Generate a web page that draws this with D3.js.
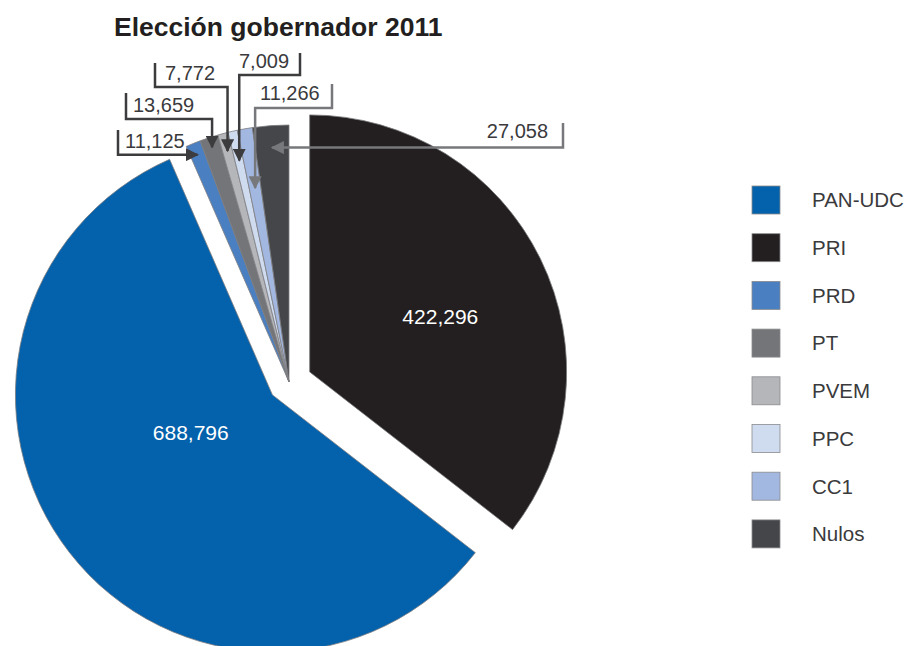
<!DOCTYPE html>
<html>
<head>
<meta charset="utf-8">
<script src="https://cdn.jsdelivr.net/npm/d3@7"></script>
<style>
  html, body { margin: 0; padding: 0; background: #fff; }
  svg { display: block; }
</style>
</head>
<body>
<svg id="chart" width="905" height="646"></svg>
<script>
// ---- Data ----
const title = "Elección gobernador 2011";
const parties = ["PAN-UDC", "PRI", "PRD", "PT", "PVEM", "PPC", "CC1", "Nulos"];
const votes   = [688796, 422296, 11125, 13659, 7772, 7009, 11266, 27058];
const colors  = ["#0461ab", "#231f20", "#4a7fc1", "#747578", "#b5b6b9", "#cfdbef", "#a3b8e0", "#444649"];
// clockwise drawing order starting at 12 o'clock
const drawOrder = ["PRI", "PAN-UDC", "PRD", "PT", "PVEM", "PPC", "CC1", "Nulos"];

// ---- Layout ----
const W = 905, H = 646;
const cx = 289, cy = 382, R = 257;
const explode = { "PRI": 23, "PAN-UDC": 21 };
const insideLabels = { "PRI": { r: 142, da: 3 }, "PAN-UDC": { r: 90, da: 13 } };
// callouts for small slices: tip radius, text position, bracket route
const callouts = {
  "PRD":   { tipR: 245, tx: 125, ty: 148, anchor: "start", stemX: 118, stemTop: 130, elbow: null, col: "dark" },
  "PT":    { tipR: 247, tx: 133, ty: 112, anchor: "start", stemX: 126, stemTop: 93,  elbow: 119,  col: "dark" },
  "PVEM":  { tipR: 239, tx: 165, ty: 80,  anchor: "start", stemX: 155, stemTop: 63,  elbow: 87,   col: "dark" },
  "PPC":   { tipR: 227, tx: 239, ty: 68,  anchor: "start", stemX: 300, stemTop: 53,  elbow: 75,   col: "dark" },
  "CC1":   { tipR: 197, tx: 260, ty: 100, anchor: "start", stemX: 332, stemTop: 84,  elbow: 108,  col: "grey" },
  "Nulos": { tipR: 235, tx: 548, ty: 138, anchor: "end",   stemX: 563, stemTop: 123, elbow: null, col: "grey" }
};
const lineColors = { dark: "#3c3c3e", grey: "#77787b" };
const font = "'Liberation Sans', Arial, Helvetica, sans-serif";
const fmt = d3.format(",");

const svg = d3.select("#chart");

// markers
const defs = svg.append("defs");
Object.entries(lineColors).forEach(([k, c]) => {
  defs.append("marker")
    .attr("id", "arrow-" + k)
    .attr("viewBox", "0 0 10 10")
    .attr("refX", 9).attr("refY", 5)
    .attr("markerUnits", "userSpaceOnUse")
    .attr("markerWidth", 13).attr("markerHeight", 13)
    .attr("orient", "auto")
    .append("path").attr("d", "M0,0 L10,5 L0,10 Z").attr("fill", c);
});

// title
svg.append("text")
  .attr("x", 114).attr("y", 36)
  .attr("font-family", font).attr("font-weight", "bold")
  .attr("font-size", 26.5).attr("fill", "#231f20")
  .text(title);

const data = parties.map((p, i) => ({ party: p, value: votes[i], color: colors[i] }));
const pie = d3.pie().value(d => d.value)
  .sort((a, b) => drawOrder.indexOf(a.party) - drawOrder.indexOf(b.party));
const arcs = pie(data);
const arc = d3.arc().innerRadius(0).outerRadius(R);

function offsetOf(a) {
  const d = explode[a.data.party] || 0;
  const m = (a.startAngle + a.endAngle) / 2;
  return [d * Math.sin(m), -d * Math.cos(m)];
}
function polar(r, ang) { return [r * Math.sin(ang), -r * Math.cos(ang)]; }

const g = svg.append("g").attr("transform", `translate(${cx},${cy})`);

g.selectAll("path.slice").data(arcs).join("path")
  .attr("class", "slice")
  .attr("transform", a => `translate(${offsetOf(a)})`)
  .attr("d", arc)
  .attr("fill", a => a.data.color)
  .attr("stroke", "#7d7e81")
  .attr("stroke-width", 0.8)
  .attr("stroke-linejoin", "round");

// inside labels
g.selectAll("text.inside").data(arcs.filter(a => insideLabels[a.data.party])).join("text")
  .attr("class", "inside")
  .attr("transform", a => {
    const o = offsetOf(a), cfg = insideLabels[a.data.party];
    const m = (a.startAngle + a.endAngle) / 2 + cfg.da * Math.PI / 180;
    const p = polar(cfg.r, m);
    return `translate(${o[0] + p[0]},${o[1] + p[1]})`;
  })
  .attr("text-anchor", "middle").attr("dy", "0.36em")
  .attr("font-family", font).attr("font-size", 21).attr("fill", "#ffffff")
  .text(a => fmt(a.data.value));

// callouts
const small = arcs.filter(a => callouts[a.data.party]);
small.forEach(a => {
  const c = callouts[a.data.party];
  const m = (a.startAngle + a.endAngle) / 2;
  const t = polar(c.tipR, m);
  const tipX = cx + t[0], tipY = cy + t[1];
  let d;
  if (c.elbow === null) {
    d = `M${c.stemX},${c.stemTop} V${tipY} H${tipX}`;
  } else {
    d = `M${c.stemX},${c.stemTop} V${c.elbow} H${tipX} V${tipY}`;
  }
  svg.append("path")
    .attr("d", d)
    .attr("fill", "none")
    .attr("stroke", lineColors[c.col])
    .attr("stroke-width", 2.5)
    .attr("marker-end", `url(#arrow-${c.col})`);
  svg.append("text")
    .attr("x", c.tx).attr("y", c.ty)
    .attr("text-anchor", c.anchor)
    .attr("font-family", font).attr("font-size", 20).attr("fill", "#3a3a3c")
    .text(fmt(a.data.value));
});

// legend
const lg = svg.append("g").attr("transform", "translate(752,186)");
const items = lg.selectAll("g").data(data).join("g")
  .attr("transform", (d, i) => `translate(0,${i * 47.7})`);
items.append("rect")
  .attr("width", 28).attr("height", 28)
  .attr("fill", d => d.color)
  .attr("stroke", "#8a8b8e").attr("stroke-width", 0.8);
items.append("text")
  .attr("x", 60).attr("y", 14).attr("dy", "0.36em")
  .attr("font-family", font).attr("font-size", 20.5).attr("fill", "#3a3a3c")
  .text(d => d.party);
</script>
</body>
</html>
